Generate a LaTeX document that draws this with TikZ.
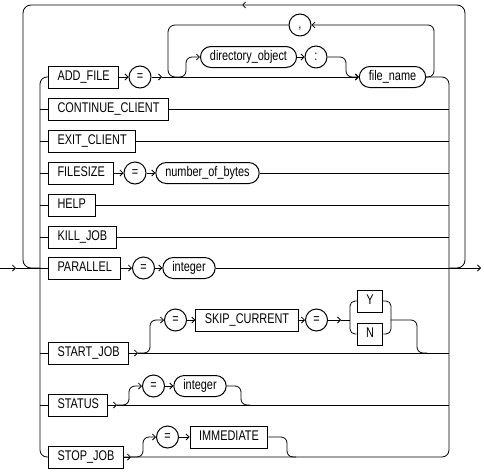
\documentclass[tikz,border=0pt]{standalone}
\usepackage{fontspec}
\setmainfont{Liberation Sans}[FakeStretch=0.78]
\usetikzlibrary{arrows.meta}
\begin{document}
\begin{tikzpicture}[x=1pt,y=-1pt,line width=0.8pt,
    every node/.style={font=\fontsize{14}{16}\selectfont},
    kw/.style={draw,rectangle,minimum height=22pt,inner xsep=9pt,inner ysep=0pt,
        text height=10pt,text depth=2.5pt,line width=1pt},
    var/.style={draw,rounded corners=10.5pt,minimum height=21pt,inner xsep=9.5pt,
        inner ysep=0pt,text height=10pt,text depth=2.5pt,line width=1pt},
    sym/.style={draw,circle,minimum size=22pt,inner sep=0pt,text height=10pt,
        text depth=2.5pt,line width=1pt},
    arr/.style={-{Straight Barb[length=3pt,width=6pt]}}]
    \useasboundingbox (0,0) rectangle (484,471);
    \coordinate (start) at (0,268);
    \coordinate (ent) at (16,268);
    \coordinate (lv) at (40,268);
    \coordinate (rv) at (449,268);
    \coordinate (end) at (481,268);
    \coordinate (tl) at (242,5);
        \node[kw,anchor=west] (addfile) at (48,77) {ADD\_FILE};
        \node[sym] (eqA) at (140,77) {=};
        \node[var] (dirobj) at (248.5,57) {directory\_object};
        \node[sym] (colon) at (316,57) {:};
        \node[var] (fname) at (392.5,77) {file\_name};
        \node[sym] (comma) at (300,25) {,};
        \node[kw,anchor=west] (cclient) at (48,109) {CONTINUE\_CLIENT};
        \node[kw,anchor=west] (xclient) at (48,141) {EXIT\_CLIENT};
        \node[kw,anchor=west] (fsize) at (48,173) {FILESIZE};
        \node[sym] (eqF) at (135,173) {=};
        \node[var] (nbytes) at (207.5,173) {number\_of\_bytes};
        \node[kw,anchor=west] (help) at (48,205) {HELP};
        \node[kw,anchor=west] (kill) at (48,237) {KILL\_JOB};
        \node[kw,anchor=west] (par) at (48,268) {PARALLEL};
        \node[sym] (eqP) at (143.5,268) {=};
        \node[var] (intP) at (189,268) {integer};
        \node[kw,anchor=west] (sjob) at (48,353) {START\_JOB};
        \node[sym] (eqS1) at (175.5,320) {=};
        \node[kw] (skip) at (247,320) {SKIP\_CURRENT};
        \node[sym] (eqS2) at (316.5,320) {=};
        \node[kw] (yes) at (370,301) {Y};
        \node[kw] (no) at (370,334) {N};
        \node[kw,anchor=west] (status) at (48,405) {STATUS};
        \node[sym] (eqT) at (153.5,386) {=};
        \node[var] (intT) at (200,386) {integer};
        \node[kw,anchor=west] (stopjob) at (48,457) {STOP\_JOB};
        \node[sym] (eqI) at (167.5,437) {=};
        \node[kw] (immed) at (229,437) {IMMEDIATE};
    \coordinate (jA1) at (162,77);
    \coordinate (jA2) at (176,77);
    \coordinate (jS1) at (138,353);
    \coordinate (jS2) at (341,320);
    \coordinate (ynL) at (350,320);
    \coordinate (ynR) at (391,320);
    \coordinate (jS3) at (427,353);
    \coordinate (jT1) at (117,405);
    \coordinate (jT2) at (250,405);
    \coordinate (jP1) at (131,457);
    \coordinate (jP2) at (296,457);
    \draw[arr] (start) -- (ent);
    \draw (ent) -- (par);
    \draw[arr] (intP) -- (end);
    \draw[arr,rounded corners=8pt] (rv) -| (465,5) -- (tl);
    \draw[rounded corners=8pt] (tl) -| (23,268) -- (lv);
    \draw[rounded corners=7pt] (addfile) -| (lv) |- (stopjob);
    \draw[rounded corners=7pt] (fname) -| (rv) |- (stopjob);
    \draw[arr] (addfile) -- (eqA);
    \draw[arr] (eqA) -- (jA1);
    \draw[arr] (jA1) -- (fname);
    \draw[arr,rounded corners=6pt] (jA2) -| (186,57) -- (dirobj);
    \draw[arr] (dirobj) -- (colon);
    \draw[arr,rounded corners=6pt] (colon) -| (346,77) -- (fname);
    \draw[arr,rounded corners=6pt] (fname) -| (434,25) -- (comma);
    \draw[rounded corners=7pt] (comma) -| (168,77) -- (jA2);
    \draw (lv |- cclient) -- (cclient) -- (cclient -| rv);
    \draw (lv |- xclient) -- (xclient) -- (xclient -| rv);
    \draw (lv |- fsize) -- (fsize);
    \draw[arr] (fsize) -- (eqF);
    \draw[arr] (eqF) -- (nbytes);
    \draw (nbytes) -- (nbytes -| rv);
    \draw (lv |- help) -- (help) -- (help -| rv);
    \draw (lv |- kill) -- (kill) -- (kill -| rv);
    \draw[arr] (par) -- (eqP);
    \draw[arr] (eqP) -- (intP);
    \draw (lv |- sjob) -- (sjob);
    \draw[arr] (sjob) -- (jS1);
    \draw (jS1) -- (jS1 -| rv);
    \draw[arr,rounded corners=6pt] (jS1) -| (150,320) -- (eqS1);
    \draw[arr] (eqS1) -- (skip);
    \draw[arr] (skip) -- (eqS2);
    \draw[arr] (eqS2) -- (jS2);
    \draw (jS2) -- (ynL);
    \draw[rounded corners=5pt] (yes) -| (ynL) |- (no);
    \draw[rounded corners=5pt] (yes) -| (ynR) |- (no);
    \draw[rounded corners=6pt] (ynR) -| (417,353) -- (jS3);
    \draw (lv |- status) -- (status);
    \draw[arr] (status) -- (jT1);
    \draw (jT1) -- (jT1 -| rv);
    \draw[arr,rounded corners=6pt] (jT1) -| (129,386) -- (eqT);
    \draw[arr] (eqT) -- (intT);
    \draw[rounded corners=6pt] (intT) -| (241,405) -- (jT2);
    \draw[arr] (stopjob) -- (jP1);
    \draw[arr,rounded corners=6pt] (jP1) -| (143,437) -- (eqI);
    \draw[arr] (eqI) -- (immed);
    \draw[rounded corners=6pt] (immed) -| (287,457) -- (jP2);
\end{tikzpicture}
\end{document}
